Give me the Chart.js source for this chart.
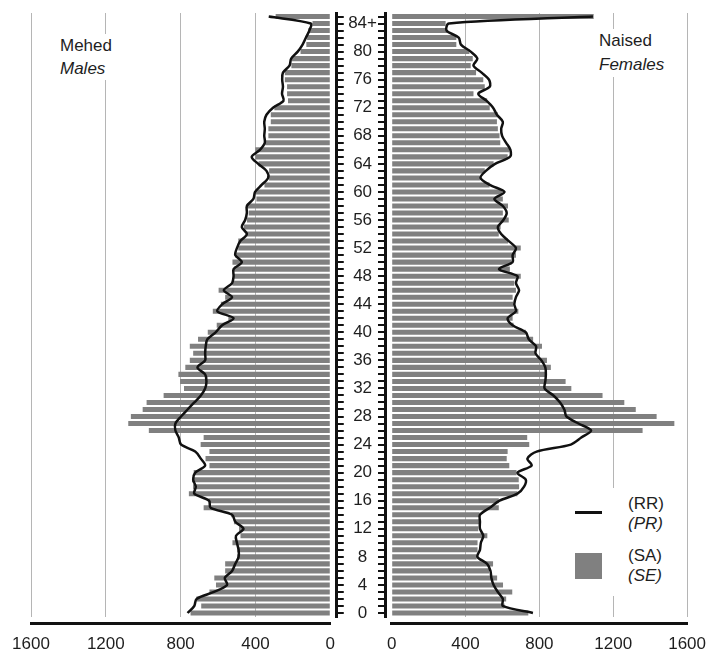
<!DOCTYPE html>
<html lang="et">
<head>
  <meta charset="UTF-8">
  <title>Rahvastikupüramiid</title>
  <style>
    body {
      margin: 0;
      background: #fff;
      font-family: "Liberation Sans", Arial, sans-serif;
      color: #1e1e1e;
    }
    #wrap {
      position: relative;
      width: 717px;
      height: 652px;
    }
    canvas {
      position: absolute;
      top: 0;
    }
    .note {
      position: absolute;
      background: #fff;
      font-size: 17px;
      line-height: 23px;
    }
    .note i, .leg i {
      font-style: italic;
    }
    .leg {
      position: absolute;
      left: 565px;
      top: 488px;
      width: 118px;
      height: 108px;
      background: #fff;
      font-size: 17px;
      line-height: 20px;
    }
    .leg .txt {
      position: absolute;
      left: 63px;
    }
  </style>
</head>
<body>

<div id="wrap">
  <canvas id="maleChart" width="346" height="652" style="left:0"></canvas>
  <canvas id="femaleChart" width="371" height="652" style="left:346px"></canvas>

  <div class="note" style="left:56px; top:34px; padding:0 6px 0 4px;">Mehed<br><i>Males</i></div>
  <div class="note" style="left:595px; top:29px; padding:0 8px 0 4px; line-height:24px;">Naised<br><i>Females</i></div>

  <div class="leg">
    <div style="position:absolute; left:10px; top:23px; width:27px; height:3px; background:#111;"></div>
    <div class="txt" style="top:6px;">(RR)<br><i>(PR)</i></div>
    <div style="position:absolute; left:10px; top:65px; width:27px; height:26px; background:#808080;"></div>
    <div class="txt" style="top:58px;">(SA)<br><i>(SE)</i></div>
  </div>
</div>

<script src="https://cdn.jsdelivr.net/npm/chart.js"></script>
<script>
  // ages 0 .. 85 (last row is the open group)
  const ages = [];
  for (let a = 0; a <= 85; a++) ages.push(String(a));

  // labels shown on the centre axis, one every 4 rows
  const tickLabels = ['0', '4', '8', '12', '16', '20', '24', '28', '32', '36', '40',
    '44', '48', '52', '56', '60', '64', '68', '72', '76', '80', '84+'];

  // males, bars (SA) and line (RR)
  const maleSA = [747, 690, 716, 646, 611, 620, 562, 562, 497, 497,
    523, 480, 488, 515, 530, 677, 650, 756, 734, 739,
    730, 646, 667, 646, 693, 677, 970, 1080, 1066, 1003,
    982, 891, 782, 803, 812, 775, 751, 733, 751, 707,
    655, 607, 545, 628, 585, 562, 597, 523, 515, 515,
    523, 506, 492, 492, 445, 462, 445, 436, 445, 395,
    401, 352, 327, 327, 383, 401, 401, 348, 331, 331,
    318, 318, 299, 226, 231, 231, 243, 243, 208, 205,
    159, 128, 124, 117, 95, 292];
  const maleRR = [763, 727, 715, 622, 552, 564, 525, 508, 490, 490,
    499, 504, 464, 508, 525, 640, 648, 727, 719, 733,
    722, 669, 692, 722, 798, 810, 828, 828, 798, 763,
    727, 692, 669, 662, 669, 710, 669, 669, 666, 657,
    613, 578, 517, 604, 578, 525, 569, 525, 517, 517,
    473, 508, 499, 481, 446, 473, 455, 446, 446, 411,
    402, 367, 332, 341, 385, 420, 376, 350, 353, 350,
    353, 341, 306, 250, 258, 253, 257, 253, 218, 209,
    174, 148, 130, 112, 104, 329];

  // females, bars (SA) and line (RR)
  const femaleSA = [740, 611, 620, 653, 603, 571, 527, 549, 460, 465,
    465, 518, 469, 476, 476, 580, 580, 681, 690, 688,
    676, 637, 623, 628, 745, 734, 1359, 1531, 1435, 1322,
    1260, 1142, 973, 942, 841, 862, 841, 779, 814, 766,
    726, 660, 655, 686, 658, 655, 673, 664, 699, 640,
    650, 673, 699, 630, 580, 590, 634, 602, 630, 602,
    600, 530, 478, 504, 552, 628, 637, 588, 584, 575,
    570, 575, 531, 517, 443, 504, 496, 457, 428, 439,
    421, 350, 350, 300, 292, 1094];
  const femaleRR = [765, 602, 602, 575, 552, 540, 535, 517, 464, 478,
    483, 496, 478, 478, 478, 531, 584, 681, 717, 726,
    681, 758, 735, 785, 970, 1027, 1080, 1012, 947, 935,
    912, 876, 828, 832, 835, 832, 811, 779, 782, 743,
    726, 655, 628, 673, 664, 673, 690, 673, 681, 581,
    655, 655, 673, 634, 593, 575, 605, 623, 602, 556,
    611, 531, 481, 510, 560, 640, 643, 620, 598, 593,
    602, 570, 549, 513, 469, 531, 527, 487, 443, 464,
    428, 375, 363, 297, 310, 1090];

  const FONT = { family: '"Liberation Sans", Arial, sans-serif', size: 17 };
  const INK = '#1e1e1e';

  function gridColor(ctx) {
    return ctx.tick && ctx.tick.value === 0 ? 'rgba(0,0,0,0)' : '#b5b5b5';
  }

  function buildChart(id, bars, line, isLeft) {
    const side = isLeft ? 'right' : 'left';
    return new Chart(document.getElementById(id), {
      type: 'bar',
      data: {
        labels: ages,
        datasets: [
          {
            type: 'line',
            data: line,
            borderColor: '#111',
            borderWidth: 2.5,
            pointRadius: 0,
            tension: 0.3,
            order: 0
          },
          {
            type: 'bar',
            data: bars,
            backgroundColor: '#808080',
            categoryPercentage: 1,
            barPercentage: 0.72,
            order: 1
          }
        ]
      },
      options: {
        indexAxis: 'y',
        responsive: false,
        animation: false,
        layout: {
          padding: isLeft ? { left: 31, top: 13, right: 0, bottom: 0 }
                          : { left: 0, top: 13, right: 24, bottom: 0 }
        },
        plugins: { legend: { display: false }, tooltip: { enabled: false } },
        scales: {
          x: {
            type: 'linear', min: 0, max: 1600, reverse: isLeft,
            position: 'bottom', weight: 0, z: 1,
            ticks: { display: false, stepSize: 400 },
            grid: { color: gridColor, lineWidth: 1, drawTicks: false },
            border: { display: false },
            afterFit: s => { s.height = 7; }
          },
          x2: {
            type: 'linear', min: 0, max: 1600, reverse: isLeft,
            position: 'bottom', weight: 1,
            ticks: {
              stepSize: 400, font: FONT, color: INK, padding: 11,
              callback: v => String(v)
            },
            grid: { display: false, drawTicks: false },
            border: { display: true, color: '#111', width: 3 },
            afterFit: s => { s.height = 28.5; }
          },
          y: {
            type: 'category', reverse: true, position: side, weight: 0,
            ticks: { display: false },
            grid: { display: false },
            border: { display: false },
            afterFit: s => { s.width = isLeft ? 6.5 : 6.7; }
          },
          y2: {
            type: 'category', reverse: true, offset: true, position: side, weight: 1,
            ticks: {
              display: !isLeft, autoSkip: false, font: FONT, color: INK,
              padding: 1, crossAlign: 'center',
              callback: (v, i) => (i % 4 === 0 ? tickLabels[i / 4] : '')
            },
            grid: {
              drawOnChartArea: false, offset: false, tickLength: 7,
              color: '#111', lineWidth: 2
            },
            border: { display: true, color: '#111', width: 3 },
            afterFit: s => { s.width = isLeft ? 7 : 39; }
          }
        }
      }
    });
  }

  buildChart('maleChart', maleSA, maleRR, true);
  buildChart('femaleChart', femaleSA, femaleRR, false);
</script>

</body>
</html>
